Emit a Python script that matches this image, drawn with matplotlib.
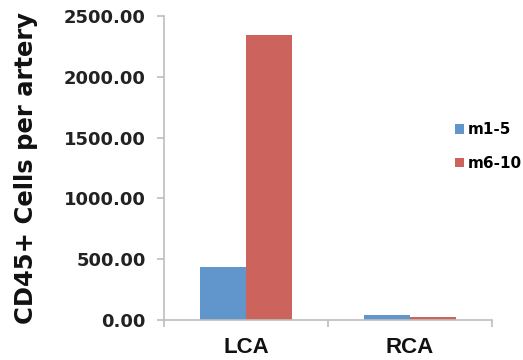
import matplotlib
matplotlib.use("Agg")
import matplotlib.pyplot as plt
import numpy as np

categories = ["LCA", "RCA"]
series_names = ["m1-5", "m6-10"]
m1_5 = [436, 45]
m6_10 = [2344, 28]
yticks = [0, 500, 1000, 1500, 2000, 2500]

blue = "#6096CB"
red = "#CC645D"
axis_gray = "#BDBDBD"

plt.rcParams["font.family"] = ["DejaVu Sans"]
plt.rcParams["font.weight"] = "bold"

fig = plt.figure(figsize=(5.23, 3.6), dpi=100)
ax = fig.add_axes([0.3136, 0.111, 0.6271, 0.8445])

x = np.arange(len(categories))
width = 0.28
ax.bar(x - width / 2, m1_5, width, color=blue, label=series_names[0])
ax.bar(x + width / 2, m6_10, width, color=red, label=series_names[1])

ax.set_xlim(-0.5, 1.5)
ax.set_ylim(0, 2500)
ax.set_yticks(yticks)
ax.set_yticklabels(["%.2f" % v for v in yticks])
ax.set_xticks(x)
ax.set_xticklabels(categories, family="Liberation Sans")
ax.set_xticks([-0.5, 0.5, 1.5], minor=True)

for s in ["top", "right"]:
    ax.spines[s].set_visible(False)
for s in ["left", "bottom"]:
    ax.spines[s].set_color(axis_gray)
    ax.spines[s].set_linewidth(1.2)

ax.tick_params(axis="y", length=5, width=1.2, color=axis_gray, pad=8,
               labelsize=13, labelcolor="#222222")
ax.tick_params(axis="x", which="major", length=0, pad=12, labelsize=16,
               labelcolor="#111111")
ax.tick_params(axis="x", which="minor", length=5, width=1.2, color=axis_gray)

ax.set_ylabel("CD45+ Cells per artery", fontsize=17.5, fontweight="bold",
              color="#111111")
ax.yaxis.set_label_coords(-0.385, 0.5)

ax.legend(loc="upper left", bbox_to_anchor=(0.87, 0.67), frameon=False,
          fontsize=11, handlelength=0.55, handleheight=0.55, handletextpad=0.25,
          labelspacing=1.2, borderaxespad=0)

fig.savefig("out.png", dpi=100)
